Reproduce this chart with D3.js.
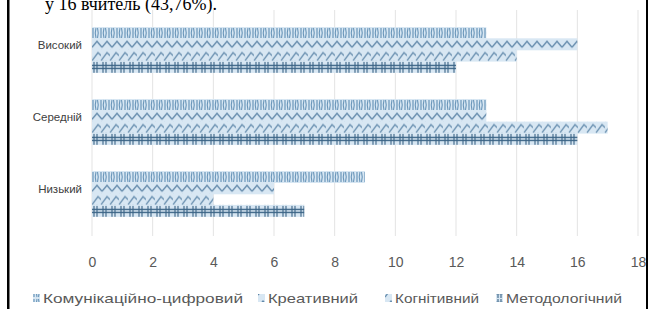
<!DOCTYPE html>
<html><head><meta charset="utf-8">
<script src="https://cdn.jsdelivr.net/npm/d3@7/dist/d3.min.js"></script>
<style>html,body{margin:0;padding:0;background:#fff;}svg{display:block;}</style>
</head><body>
<script>
const categories = ["Високий", "Середній", "Низький"];
const seriesNames = ["Комунікаційно-цифровий", "Креативний", "Когнітивний", "Методологічний"];
const commDigital = [13, 13, 9];
const creative = [16, 13, 6];
const cognitive = [14, 17, 4];
const methodological = [12, 16, 7];
const xTicks = [0, 2, 4, 6, 8, 10, 12, 14, 16, 18];
const headerText = "у 16 вчитель (43,76%).";

const seriesValues = [commDigital, creative, cognitive, methodological];
const W = 651, H = 309;
const svg = d3.select("body").append("svg").attr("width", W).attr("height", H);
const defs = svg.append("defs");

const light = "#d8e7f3", mid = "#6a96ba", dark = "#3a6385";
const barH = 12;
function mkPattern(id, w, draw) {
  const p = defs.append("pattern").attr("id", id).attr("patternUnits", "userSpaceOnUse")
    .attr("width", w).attr("height", barH);
  p.append("rect").attr("width", w).attr("height", barH).attr("fill", light);
  draw(p);
}
mkPattern("p0", 8, p => {
  p.append("line").attr("x1", 1).attr("x2", 1).attr("y1", 1).attr("y2", 11).attr("stroke", mid).attr("stroke-width", 1.2);
  p.append("path").attr("d", "M4,1 Q2.5,6 4,11").attr("fill", "none").attr("stroke", mid).attr("stroke-width", 1.1);
  p.append("path").attr("d", "M5.5,1 Q7,6 5.5,11").attr("fill", "none").attr("stroke", mid).attr("stroke-width", 1.1);
});
mkPattern("p1", 10, p => {
  p.append("path").attr("d", "M0,9 L5,3 L10,9").attr("fill", "none").attr("stroke", "#5f87a9").attr("stroke-width", 1.3);
});
mkPattern("p2", 9, p => {
  p.append("path").attr("d", "M0,11 L6,3 L9,6 M-3,6 L0,8 M9,11 L15,3").attr("fill", "none").attr("stroke", "#6a90b0").attr("stroke-width", 1.3);
});
mkPattern("p3", 9, p => {
  p.append("line").attr("x1", 0).attr("x2", 9).attr("y1", 4.5).attr("y2", 4.5).attr("stroke", dark).attr("stroke-width", 1.4);
  p.append("line").attr("x1", 0).attr("x2", 9).attr("y1", 7.5).attr("y2", 7.5).attr("stroke", dark).attr("stroke-width", 1.4);
  p.append("line").attr("x1", 2).attr("x2", 2).attr("y1", 1).attr("y2", 12).attr("stroke", dark).attr("stroke-width", 1.1);
  p.append("line").attr("x1", 5).attr("x2", 5).attr("y1", 1).attr("y2", 12).attr("stroke", dark).attr("stroke-width", 1.1);
});

// header text (partially cut, as in the reference)
svg.append("text").attr("x", 45).attr("y", 10).attr("font-family", "Liberation Serif")
  .attr("font-size", 18).attr("fill", "#000").text(headerText);

// borders
svg.append("rect").attr("x", 7).attr("y", 0).attr("width", 2.5).attr("height", H).attr("fill", "#000");
svg.append("rect").attr("x", 646).attr("y", 0).attr("width", 2).attr("height", H).attr("fill", "#000");

const x = d3.scaleLinear().domain([0, 18]).range([92, 638]);
const y = d3.scaleBand().domain(categories).range([14, 230]);

// gridlines
svg.append("g").selectAll("line").data(xTicks).join("line")
  .attr("x1", d => x(d)).attr("x2", d => x(d)).attr("y1", 10).attr("y2", 236)
  .attr("stroke", "#e3e3e3").attr("stroke-width", 1);

// bars
const groupH = 46;
const step = 11.3;
const rows = [];
categories.forEach((c, ci) => {
  seriesValues.forEach((vals, si) => rows.push({c, si, v: vals[ci]}));
});
svg.append("g").selectAll("g").data(rows).join("g")
  .attr("transform", d => `translate(${x(0)},${y(d.c) + y.bandwidth()/2 - groupH/2 + d.si*step})`)
  .append("rect").attr("x", 0).attr("y", 0)
  .attr("width", d => x(d.v) - x(0)).attr("height", barH)
  .attr("fill", d => `url(#p${d.si})`);

// x axis labels
const xAxis = svg.append("g").attr("transform", "translate(0,262)")
  .call(d3.axisBottom(x).tickValues(xTicks).tickSize(0).tickPadding(0));
xAxis.select(".domain").remove();
xAxis.selectAll("text").attr("font-family", "Liberation Sans").attr("font-size", 14)
  .attr("fill", "#595959").attr("dy", "0.35em").attr("y", 0);

// category labels
const yAxis = svg.append("g").attr("transform", "translate(82,0)")
  .call(d3.axisLeft(y).tickSize(0).tickPadding(0));
yAxis.select(".domain").remove();
yAxis.selectAll("text").attr("font-family", "Liberation Sans").attr("font-size", 11.5)
  .attr("fill", "#404040").attr("dy", "-0.1em");

// legend
const legendX = [33, 258, 385, 496];
const legendLen = [200, 90, 84, 116];
const leg = svg.append("g").selectAll("g").data(seriesNames).join("g")
  .attr("transform", (d, i) => `translate(${legendX[i]},298)`);
leg.append("rect").attr("x", 0).attr("y", -4).attr("width", 7).attr("height", 8)
  .attr("fill", (d, i) => `url(#p${i})`);
leg.append("text").attr("x", 10).attr("y", 0).attr("dy", "0.35em")
  .attr("font-family", "Liberation Sans").attr("font-size", 13).attr("fill", "#595959")
  .attr("textLength", (d, i) => legendLen[i]).attr("lengthAdjust", "spacingAndGlyphs")
  .text(d => d);
</script>
</body></html>
